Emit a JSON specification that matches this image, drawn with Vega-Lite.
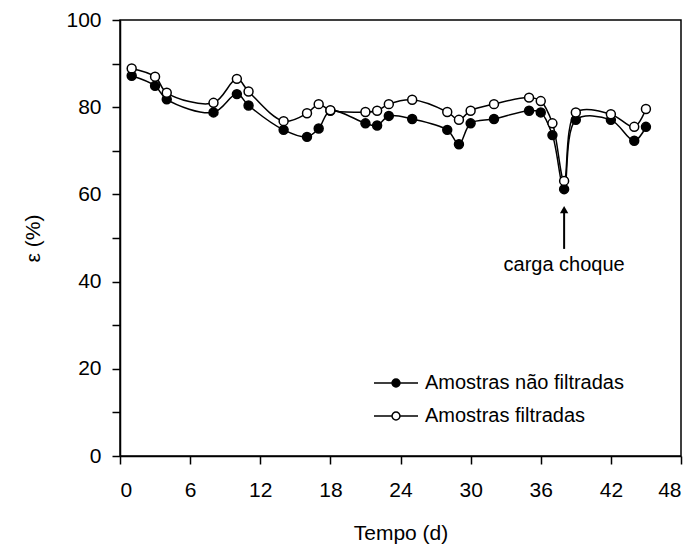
{
  "$schema": "https://vega.github.io/schema/vega-lite/v6.json",
  "width": 561,
  "height": 436,
  "autosize": {"type": "none"},
  "padding": {"left": 120, "top": 20, "right": 16, "bottom": 93},
  "background": "white",
  "config": {
    "font": "Liberation Sans",
    "view": {"stroke": "black", "strokeWidth": 1.5},
    "axis": {
      "grid": false,
      "domainColor": "black",
      "domainWidth": 1.5,
      "tickColor": "black",
      "tickWidth": 1.5,
      "tickSize": 8,
      "labelFont": "Liberation Sans",
      "labelFontSize": 21,
      "labelColor": "black",
      "titleFont": "Liberation Sans",
      "titleFontSize": 21,
      "titleFontWeight": "normal",
      "titleColor": "black"
    }
  },
  "datasets": {
    "series": [
      {"t": 1, "e": 87.2, "s": "Amostras não filtradas"},
      {"t": 3, "e": 84.9, "s": "Amostras não filtradas"},
      {"t": 4, "e": 81.8, "s": "Amostras não filtradas"},
      {"t": 8, "e": 78.8, "s": "Amostras não filtradas"},
      {"t": 10, "e": 83.0, "s": "Amostras não filtradas"},
      {"t": 11, "e": 80.4, "s": "Amostras não filtradas"},
      {"t": 14, "e": 74.8, "s": "Amostras não filtradas"},
      {"t": 16, "e": 73.2, "s": "Amostras não filtradas"},
      {"t": 17, "e": 75.1, "s": "Amostras não filtradas"},
      {"t": 18, "e": 79.2, "s": "Amostras não filtradas"},
      {"t": 21, "e": 76.3, "s": "Amostras não filtradas"},
      {"t": 22, "e": 75.8, "s": "Amostras não filtradas"},
      {"t": 23, "e": 78.0, "s": "Amostras não filtradas"},
      {"t": 25, "e": 77.3, "s": "Amostras não filtradas"},
      {"t": 28, "e": 74.8, "s": "Amostras não filtradas"},
      {"t": 29, "e": 71.5, "s": "Amostras não filtradas"},
      {"t": 30, "e": 76.3, "s": "Amostras não filtradas"},
      {"t": 32, "e": 77.3, "s": "Amostras não filtradas"},
      {"t": 35, "e": 79.2, "s": "Amostras não filtradas"},
      {"t": 36, "e": 78.8, "s": "Amostras não filtradas"},
      {"t": 37, "e": 73.6, "s": "Amostras não filtradas"},
      {"t": 38, "e": 61.2, "s": "Amostras não filtradas"},
      {"t": 39, "e": 77.1, "s": "Amostras não filtradas"},
      {"t": 42, "e": 77.1, "s": "Amostras não filtradas"},
      {"t": 44, "e": 72.3, "s": "Amostras não filtradas"},
      {"t": 45, "e": 75.5, "s": "Amostras não filtradas"},
      {"t": 1, "e": 88.9, "s": "Amostras filtradas"},
      {"t": 3, "e": 87.0, "s": "Amostras filtradas"},
      {"t": 4, "e": 83.3, "s": "Amostras filtradas"},
      {"t": 8, "e": 81.0, "s": "Amostras filtradas"},
      {"t": 10, "e": 86.5, "s": "Amostras filtradas"},
      {"t": 11, "e": 83.6, "s": "Amostras filtradas"},
      {"t": 14, "e": 76.8, "s": "Amostras filtradas"},
      {"t": 16, "e": 78.6, "s": "Amostras filtradas"},
      {"t": 17, "e": 80.7, "s": "Amostras filtradas"},
      {"t": 18, "e": 79.3, "s": "Amostras filtradas"},
      {"t": 21, "e": 78.9, "s": "Amostras filtradas"},
      {"t": 22, "e": 79.2, "s": "Amostras filtradas"},
      {"t": 23, "e": 80.7, "s": "Amostras filtradas"},
      {"t": 25, "e": 81.7, "s": "Amostras filtradas"},
      {"t": 28, "e": 78.9, "s": "Amostras filtradas"},
      {"t": 29, "e": 77.1, "s": "Amostras filtradas"},
      {"t": 30, "e": 79.2, "s": "Amostras filtradas"},
      {"t": 32, "e": 80.7, "s": "Amostras filtradas"},
      {"t": 35, "e": 82.2, "s": "Amostras filtradas"},
      {"t": 36, "e": 81.4, "s": "Amostras filtradas"},
      {"t": 37, "e": 76.3, "s": "Amostras filtradas"},
      {"t": 38, "e": 63.1, "s": "Amostras filtradas"},
      {"t": 39, "e": 78.8, "s": "Amostras filtradas"},
      {"t": 42, "e": 78.4, "s": "Amostras filtradas"},
      {"t": 44, "e": 75.5, "s": "Amostras filtradas"},
      {"t": 45, "e": 79.6, "s": "Amostras filtradas"}
    ],
    "arrow": [{"t": 38, "y1": 47.5, "y2": 56, "tip": 56.5}],
    "note": [{"t": 38, "e": 43.8, "label": "carga choque"}]
  },
  "layer": [
    {
      "data": {"name": "series"},
      "mark": {"type": "line", "interpolate": "catmull-rom", "stroke": "black", "strokeWidth": 1.5},
      "encoding": {
        "x": {
          "field": "t", "type": "quantitative",
          "scale": {"domain": [0, 48], "nice": false, "zero": false},
          "axis": {
            "title": "Tempo (d)",
            "values": [0, 3, 6, 9, 12, 15, 18, 21, 24, 27, 30, 33, 36, 39, 42, 45, 48],
            "labelExpr": "datum.value % 6 == 0 ? datum.label : ''",
            "labelPadding": 15,
            "titlePadding": 22
          }
        },
        "y": {
          "field": "e", "type": "quantitative",
          "scale": {"domain": [0, 100], "nice": false},
          "axis": {
            "title": "ε (%)",
            "values": [0, 10, 20, 30, 40, 50, 60, 70, 80, 90, 100],
            "labelExpr": "datum.value % 20 == 0 ? datum.label : ''",
            "labelPadding": 11,
            "titlePadding": 22
          }
        },
        "detail": {"field": "s", "type": "nominal"}
      }
    },
    {
      "data": {"name": "series"},
      "mark": {"type": "point", "shape": "circle", "size": 80, "stroke": "black", "strokeWidth": 1.5, "opacity": 1},
      "encoding": {
        "x": {"field": "t", "type": "quantitative"},
        "y": {"field": "e", "type": "quantitative"},
        "fill": {
          "field": "s", "type": "nominal",
          "scale": {"domain": ["Amostras não filtradas", "Amostras filtradas"], "range": ["black", "white"]},
          "legend": {
            "title": null,
            "orient": "none",
            "legendX": 253,
            "legendY": 340,
            "symbolType": "M-1,0H-0.18M0.18,0H1M0.18,0A0.18,0.18,0,1,1,-0.18,0A0.18,0.18,0,1,1,0.18,0",
            "symbolSize": 1936,
            "symbolStrokeColor": "black",
            "symbolStrokeWidth": 1.5,
            "symbolOpacity": 1,
            "labelFontSize": 20,
            "labelFont": "Liberation Sans",
            "labelColor": "black",
            "labelLimit": 0,
            "labelOffset": 6,
            "rowPadding": -6
          }
        }
      }
    },
    {
      "data": {"name": "arrow"},
      "mark": {"type": "rule", "stroke": "black", "strokeWidth": 2},
      "encoding": {
        "x": {"field": "t", "type": "quantitative"},
        "y": {"field": "y1", "type": "quantitative"},
        "y2": {"field": "y2"}
      }
    },
    {
      "data": {"name": "arrow"},
      "mark": {"type": "point", "shape": "triangle-up", "size": 70, "filled": true, "fill": "black", "opacity": 1},
      "encoding": {
        "x": {"field": "t", "type": "quantitative"},
        "y": {"field": "tip", "type": "quantitative"}
      }
    },
    {
      "data": {"name": "note"},
      "mark": {"type": "text", "font": "Liberation Sans", "fontSize": 20, "color": "black", "align": "center", "baseline": "middle"},
      "encoding": {
        "x": {"field": "t", "type": "quantitative"},
        "y": {"field": "e", "type": "quantitative"},
        "text": {"field": "label"}
      }
    }
  ]
}
